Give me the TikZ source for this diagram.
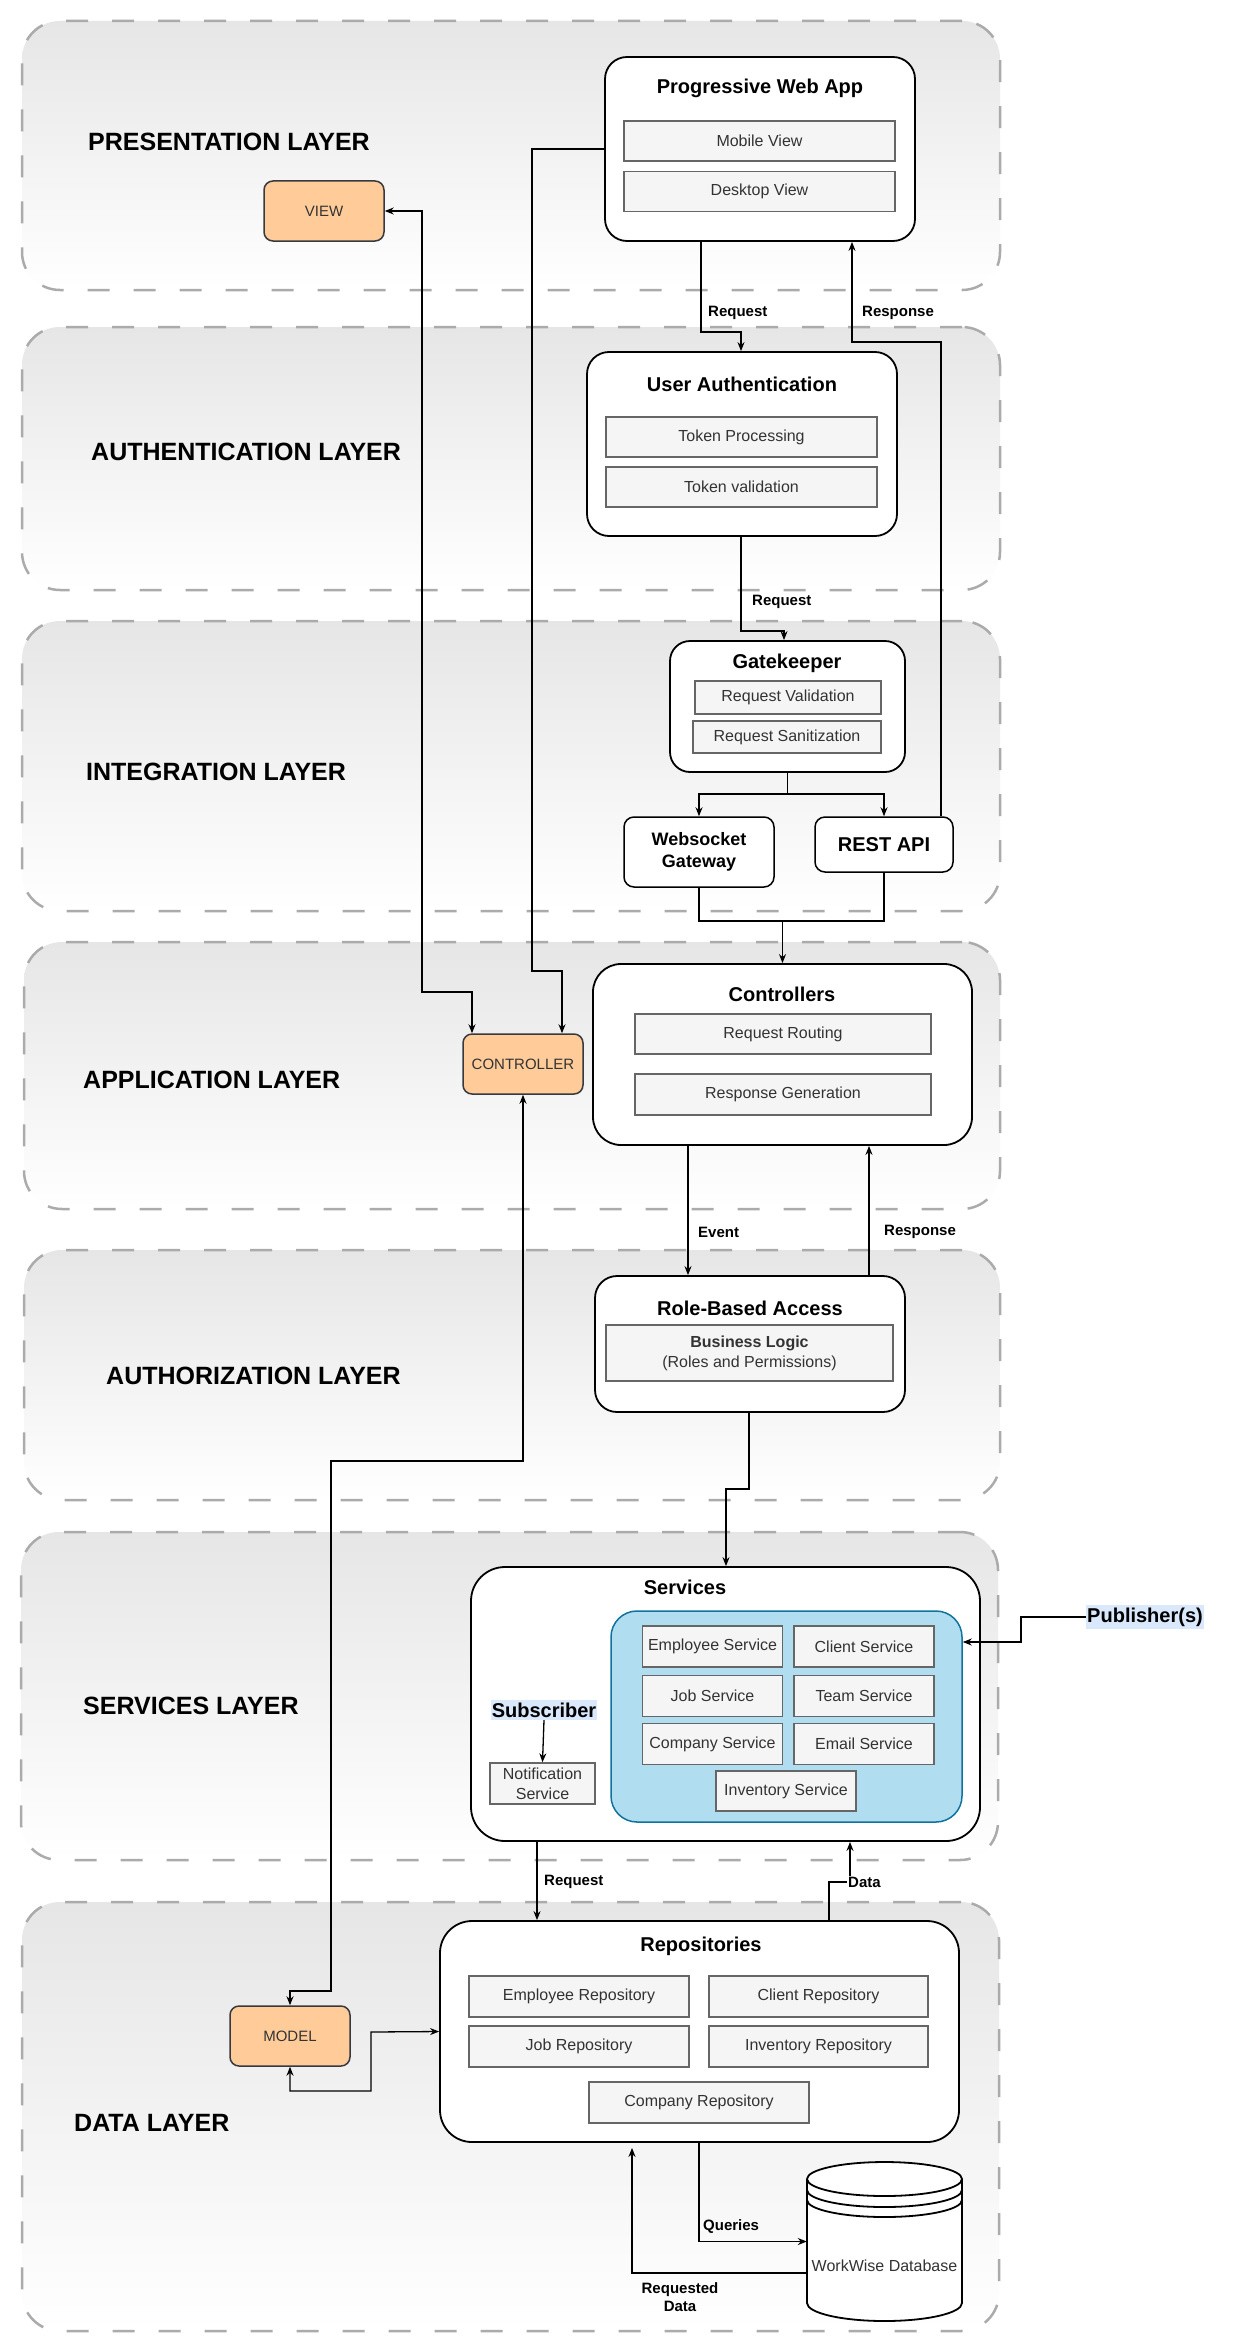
\documentclass[tikz,border=0pt]{standalone}
\usepackage{fontspec}
\setmainfont{Liberation Sans}
\usetikzlibrary{arrows.meta,calc}
\definecolor{bandgray}{HTML}{ABABAB}
\definecolor{bandtop}{HTML}{E6E6E6}
\definecolor{subgray}{HTML}{666666}
\definecolor{subfill}{HTML}{F5F5F5}
\definecolor{subtext}{HTML}{333333}
\definecolor{mvcfill}{HTML}{FFCC99}
\definecolor{mvcborder}{HTML}{36393D}
\definecolor{bluefill}{HTML}{B1DDF0}
\definecolor{blueborder}{HTML}{10739E}
\definecolor{hlblue}{HTML}{DAE8FC}
\tikzset{
 band/.style={draw=bandgray, line width=2.5pt, dash pattern=on 22pt off 24pt, rounded corners=38pt, top color=bandtop, bottom color=white, inner sep=0},
 layerlbl/.style={anchor=west, inner sep=0, font=\fontsize{25}{29}\selectfont\bfseries},
 bigbox/.style={draw=black, fill=white, line width=1.8pt, rounded corners=22pt, inner sep=0},
 ttl/.style={inner sep=0, font=\fontsize{20}{24}\selectfont\bfseries},
 subbox/.style={draw=subgray, fill=subfill, line width=1.5pt, text=subtext, inner sep=0, font=\fontsize{16}{20}\selectfont, align=center},
 mvc/.style={draw=mvcborder, fill=mvcfill, line width=1.5pt, rounded corners=9pt, text=subtext, inner sep=0, font=\fontsize{15}{18}\selectfont},
 conn/.style={draw=black, line width=1.3pt, -{Stealth[length=9pt,width=7pt]}},
 biconn/.style={draw=black, line width=1.3pt, {Stealth[length=9pt,width=7pt]}-{Stealth[length=9pt,width=7pt]}},
 plainconn/.style={draw=black, line width=1.3pt},
 elbl/.style={inner sep=0, anchor=west, font=\fontsize{15}{18}\selectfont\bfseries},
 hl/.style={fill=hlblue, inner xsep=1pt, inner ysep=2.5pt, font=\fontsize{20}{24}\selectfont\bfseries},
}
\begin{document}
\begin{tikzpicture}[x=1pt,y=-1pt]
\useasboundingbox (0,0) rectangle (1232,2352);
\fill[white] (0,0) rectangle (1232,2352);

% layer bands
\node[band, minimum width=978pt, minimum height=269pt] (b1) at (511,155.5) {};
\node[band, minimum width=978pt, minimum height=263pt] (b2) at (511,458.5) {};
\node[band, minimum width=978pt, minimum height=290pt] (b3) at (511,766) {};
\node[band, minimum width=976pt, minimum height=267pt] (b4) at (512,1075.5) {};
\node[band, minimum width=976pt, minimum height=250pt] (b5) at (512,1375) {};
\node[band, minimum width=977pt, minimum height=328pt] (b6) at (509.5,1696) {};
\node[band, minimum width=977pt, minimum height=429pt] (b7) at (510.5,2116.5) {};

\node[layerlbl] (l1) at (88,142) {PRESENTATION LAYER};
\node[layerlbl] (l2) at (91,452) {AUTHENTICATION LAYER};
\node[layerlbl] (l3) at (86,772) {INTEGRATION LAYER};
\node[layerlbl] (l4) at (83,1080) {APPLICATION LAYER};
\node[layerlbl] (l5) at (106,1376) {AUTHORIZATION LAYER};
\node[layerlbl] (l6) at (83,1706) {SERVICES LAYER};
\node[layerlbl] (l7) at (74,2123) {DATA LAYER};

% presentation
\node[bigbox, minimum width=310pt, minimum height=184pt] (pwa) at (760,149) {};
\node[ttl] (pwat) at (760,88) {Progressive Web App};
\node[subbox, minimum width=271pt, minimum height=40pt] (mob) at (759.5,141) {Mobile View};
\node[subbox, minimum width=271pt, minimum height=40pt] (desk) at (759.5,191.5) {Desktop View};
\node[mvc, minimum width=120pt, minimum height=60pt] (view) at (324,211) {VIEW};

% authentication
\node[bigbox, minimum width=310pt, minimum height=184pt] (ua) at (742,444) {};
\node[ttl] (uat) at (742,384) {User Authentication};
\node[subbox, minimum width=271pt, minimum height=40pt] (tp) at (741.5,437) {Token Processing};
\node[subbox, minimum width=271pt, minimum height=40pt] (tv) at (741.5,487) {Token validation};

% integration
\node[bigbox, rounded corners=20pt, minimum width=235pt, minimum height=131pt] (gk) at (787.5,706.5) {};
\node[ttl] (gkt) at (787,663) {Gatekeeper};
\node[subbox, minimum width=186pt, minimum height=33pt] (rv) at (788,697.5) {Request Validation};
\node[subbox, minimum width=188pt, minimum height=32pt] (rsn) at (787,737) {Request Sanitization};
\node[bigbox, line width=1.5pt, rounded corners=10pt, minimum width=150pt, minimum height=70pt, font=\fontsize{18}{22}\selectfont\bfseries, align=center] (ws) at (699,852) {Websocket\\Gateway};
\node[bigbox, line width=1.5pt, rounded corners=10pt, minimum width=138pt, minimum height=55pt, font=\fontsize{20}{24}\selectfont\bfseries] (rest) at (884,844.5) {REST API};

% application
\node[bigbox, rounded corners=28pt, minimum width=379pt, minimum height=181pt] (ctrl) at (782.5,1054.5) {};
\node[ttl] (ctrlt) at (782,994) {Controllers};
\node[subbox, minimum width=296pt, minimum height=40pt] (rr) at (783,1034) {Request Routing};
\node[subbox, minimum width=296pt, minimum height=41pt] (rg) at (783,1094.5) {Response Generation};
\node[mvc, minimum width=120pt, minimum height=60pt] (mvcc) at (523,1064) {CONTROLLER};

% authorization
\node[bigbox, minimum width=310pt, minimum height=136pt] (rba) at (750,1344) {};
\node[ttl] (rbat) at (750,1308) {Role-Based Access};
\node[subbox, minimum width=287pt, minimum height=56pt] (bl) at (749.5,1353) {\textbf{Business Logic}\\(Roles and Permissions)};

% services
\node[bigbox, rounded corners=34pt, minimum width=509pt, minimum height=274pt] (svc) at (725.5,1704) {};
\node[ttl] (svct) at (685,1587) {Services};
\node[draw=blueborder, fill=bluefill, line width=1.5pt, rounded corners=26pt, minimum width=351pt, minimum height=211pt, inner sep=0] (blue) at (786.5,1716.5) {};
\node[subbox, minimum width=140pt, minimum height=41pt] (es) at (712.5,1646.5) {Employee Service};
\node[subbox, minimum width=140pt, minimum height=41pt] (cs) at (864,1646.5) {Client Service};
\node[subbox, minimum width=140pt, minimum height=41pt] (js) at (712.5,1696) {Job Service};
\node[subbox, minimum width=140pt, minimum height=41pt] (ts) at (864,1696) {Team Service};
\node[subbox, minimum width=140pt, minimum height=41pt] (cos) at (712.5,1744) {Company Service};
\node[subbox, minimum width=140pt, minimum height=41pt] (ems) at (864,1744) {Email Service};
\node[subbox, minimum width=140pt, minimum height=40pt] (is) at (786,1791) {Inventory Service};
\node[hl] (sub) at (544,1710) {Subscriber};
\node[subbox, minimum width=105pt, minimum height=41pt] (notif) at (542.5,1783.5) {Notification\\Service};
\node[hl] (pub) at (1145,1617) {Publisher(s)};

% data
\node[bigbox, rounded corners=32pt, minimum width=519pt, minimum height=221pt] (repo) at (699.5,2031.5) {};
\node[ttl] (repot) at (701,1946) {Repositories};
\node[subbox, minimum width=220pt, minimum height=41pt] (er) at (579,1996.5) {Employee Repository};
\node[subbox, minimum width=219pt, minimum height=41pt] (cr) at (818.5,1996.5) {Client Repository};
\node[subbox, minimum width=220pt, minimum height=41pt] (jr) at (579,2046.5) {Job Repository};
\node[subbox, minimum width=219pt, minimum height=41pt] (ir) at (818.5,2046.5) {Inventory Repository};
\node[subbox, minimum width=220pt, minimum height=41pt] (cor) at (699,2102.5) {Company Repository};
\node[mvc, minimum width=120pt, minimum height=60pt] (model) at (290,2036) {MODEL};

% database cylinder
\node[minimum width=155pt, minimum height=159pt, inner sep=0] (db) at (884.5,2241.5) {};
\fill[white] (807,2179) -- (807,2303) arc[start angle=180,end angle=0,x radius=77.5,y radius=18] -- (962,2179) -- cycle;
\draw[line width=1.8pt] (807,2179) -- (807,2303) arc[start angle=180,end angle=0,x radius=77.5,y radius=18] -- (962,2179);
\draw[line width=1.8pt, fill=white] (884.5,2179) ellipse[x radius=77.5, y radius=17];
\draw[line width=1.8pt] (807,2190) arc[start angle=180,end angle=0,x radius=77.5,y radius=17];
\draw[line width=1.8pt] (807,2200) arc[start angle=180,end angle=0,x radius=77.5,y radius=17];
\node[inner sep=0, text=subtext, font=\fontsize{16}{20}\selectfont] (dbt) at (884.5,2266) {WorkWise Database};

% connectors
\draw[conn] (701,0 |- pwa.south) |- (741,332) -- (741,0 |- ua.north);
\node[elbl] (lreq1) at (708,313) {Request};
\draw[conn] (941,0 |- rest.north) |- (852,342) -- (852,0 |- pwa.south);
\node[elbl] (lresp1) at (862,313) {Response};
\draw[conn] (741,0 |- ua.south) |- (784,631) -- (784,0 |- gk.north);
\node[elbl] (lreq2) at (752,602) {Request};
\draw[plainconn] (gk.south) -- (787.5,794);
\draw[conn] (787.5,794) -| (ws.north);
\draw[conn] (787.5,794) -| (rest.north);
\draw[plainconn] (ws.south) |- (782.5,921);
\draw[plainconn] (rest.south) |- (782.5,921);
\draw[conn] (782.5,921) -- (ctrl.north);
\draw[conn] (688,0 |- ctrl.south) -- (688,0 |- rba.north);
\node[elbl] (levent) at (698,1232) {Event};
\draw[conn] (869,0 |- rba.north) -- (869,0 |- ctrl.south);
\node[elbl] (lresp2) at (884,1232) {Response};
\draw[conn] (749,0 |- rba.south) |- (726,1489) -- (726,0 |- svc.north);
\draw[conn] (pub.west) -| (1021,1642) -- (blue.east |- 1021,1642);
\draw[conn] (sub.south) -- (notif.north);
\draw[conn] (537,0 |- svc.south) -- (537,0 |- repo.north);
\node[elbl] (lreq3) at (544,1882) {Request};
\draw[conn] (829,0 |- repo.north) |- (850,1882) -- (850,0 |- svc.south);
\node[elbl, fill=white, inner xsep=1pt, inner ysep=1pt] (ldata) at (847,1882) {Data};
\draw[conn] (699,0 |- repo.south) |- (db.west);
\node[elbl] (lq) at (703,2227) {Queries};
\draw[conn, shorten >=5pt] (db.west |- 0,2273) -| (632,0 |- repo.south);
\node[inner sep=0, align=center, font=\fontsize{15}{18}\selectfont\bfseries] (lrd) at (680,2297) {Requested\\Data};

% MVC connectors
\draw[conn] (pwa.west) -| (532,971) -| (562,0 |- mvcc.north);
\draw[biconn] (view.east) -| (422,992) -| (472,0 |- mvcc.north);
\draw[biconn] (mvcc.south) |- (331,1461) -- (331,1991) -| (model.north);
\draw[biconn] (model.south) -- (290,2091) -| (371,2032) -- (repo.west);
\end{tikzpicture}
\end{document}
